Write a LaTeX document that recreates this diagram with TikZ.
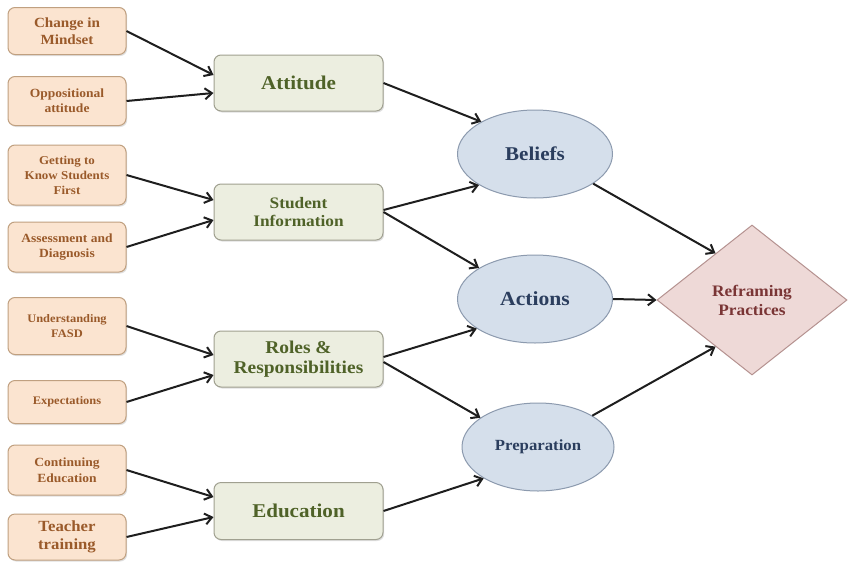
\documentclass[tikz,border=0pt]{standalone}
\usepackage{fontspec}
\setmainfont[FakeStretch=1.08]{Liberation Serif}
\usetikzlibrary{shapes.geometric,arrows.meta,shadows}
\definecolor{srcF}{HTML}{FBE4D0}
\definecolor{srcB}{HTML}{C0A080}
\definecolor{srcT}{HTML}{9A5A2A}
\definecolor{midF}{HTML}{ECEEE0}
\definecolor{midB}{HTML}{A0A090}
\definecolor{midT}{HTML}{4F6228}
\definecolor{ellF}{HTML}{D5DFEB}
\definecolor{ellB}{HTML}{8C9AAE}
\definecolor{ellT}{HTML}{2B3E5E}
\definecolor{diaF}{HTML}{EED9D7}
\definecolor{diaB}{HTML}{B59290}
\definecolor{diaT}{HTML}{7A3535}
\definecolor{arrC}{HTML}{1E1E1E}
\newcommand{\fz}[2]{\fontsize{#1}{#2}\selectfont\bfseries}
\begin{document}
\begin{tikzpicture}[x=1pt,y=-1pt,
  shad/.style={drop shadow={opacity=0.25,shadow xshift=1.2pt,shadow yshift=-1.5pt}},
  src/.style={draw=srcB, fill=srcF, rounded corners=7pt, line width=1pt, minimum width=118pt,
    text=srcT, align=center, inner sep=0pt, shad},
  mid/.style={draw=midB, fill=midF, rounded corners=7pt, line width=1pt, minimum width=169pt,
    minimum height=56pt, text=midT, align=center, inner sep=0pt, shad},
  ell/.style={ellipse, draw=ellB, fill=ellF, line width=1pt, text=ellT, minimum width=155pt,
    minimum height=88pt, inner sep=0pt, align=center},
  dia/.style={diamond, draw=diaB, fill=diaF, line width=1pt, text=diaT, minimum width=190pt,
    minimum height=150pt, aspect=1.27, inner sep=0pt, align=center},
  arr/.style={-{Straight Barb[length=7pt,width=11pt]}, line width=2pt, draw=arrC}]
\fill[white] (0,0) rectangle (848,562);
\useasboundingbox (0,0) rectangle (848,562);
% left boxes
\node[src, minimum height=47pt, font=\fz{14}{16.5}] (cm) at (67,31) {Change in\\Mindset};
\node[src, minimum height=49pt, font=\fz{12.5}{15}] (op) at (67,101) {Oppositional\\attitude};
\node[src, minimum height=60pt, font=\fz{12}{15}] (gk) at (67,175) {Getting to\\Know Students\\First};
\node[src, minimum height=50pt, font=\fz{12.5}{15.5}] (ad) at (67,247) {Assessment and\\Diagnosis};
\node[src, minimum height=57pt, font=\fz{11.5}{14.5}] (uf) at (67,326) {Understanding\\FASD};
\node[src, minimum height=43pt, font=\fz{11.5}{14}] (ex) at (67,402) {Expectations};
\node[src, minimum height=50pt, font=\fz{12.5}{15.5}] (ce) at (67,470) {Continuing\\Education};
\node[src, minimum height=46pt, font=\fz{15.5}{18}] (tt) at (67,537) {Teacher\\training};
% middle boxes
\node[mid, font=\fz{19.5}{22}] (att) at (298.5,83) {Attitude};
\node[mid, font=\fz{16}{18}] (si) at (298.5,212) {Student\\Information};
\node[mid, font=\fz{18}{20}] (rr) at (298.5,359) {Roles \&\\Responsibilities};
\node[mid, minimum height=57pt, font=\fz{19.5}{22}] (ed) at (298.5,511) {Education};
% ellipses
\node[ell, font=\fz{19.5}{22}] (bel) at (535,154) {Beliefs};
\node[ell, font=\fz{20}{22}] (act) at (535,299) {Actions};
\node[ell, minimum width=152pt, font=\fz{15.5}{18}] (prep) at (538,447) {Preparation};
% diamond
\node[dia, font=\fz{16}{19}] (rp) at (752,300) {Reframing\\Practices};
% arrows into middle boxes
\draw[arr] (cm.east) -- ([yshift=8pt]att.west);
\draw[arr] (op.east) -- ([yshift=-10pt]att.west);
\draw[arr] (gk.east) -- ([yshift=12pt]si.west);
\draw[arr] (ad.east) -- ([yshift=-8pt]si.west);
\draw[arr] (uf.east) -- ([yshift=4pt]rr.west);
\draw[arr] (ex.east) -- ([yshift=-16pt]rr.west);
\draw[arr] (ce.east) -- ([yshift=14pt]ed.west);
\draw[arr] (tt.east) -- ([yshift=-6pt]ed.west);
% arrows into ellipses
\draw[arr] (att.east) -- (bel.149);
\draw[arr] ([yshift=2pt]si.east) -- (bel.209);
\draw[arr] (si.east) -- (act.151);
\draw[arr] ([yshift=2pt]rr.east) -- (act.207);
\draw[arr] ([yshift=-3pt]rr.east) -- (prep.153);
\draw[arr] (ed.east) -- (prep.210);
% arrows into diamond
\draw[arr] (bel.333) -- (rp.128);
\draw[arr] (act.east) -- (rp.west);
\draw[arr] (prep.30) -- (rp.232);
\end{tikzpicture}
\end{document}
